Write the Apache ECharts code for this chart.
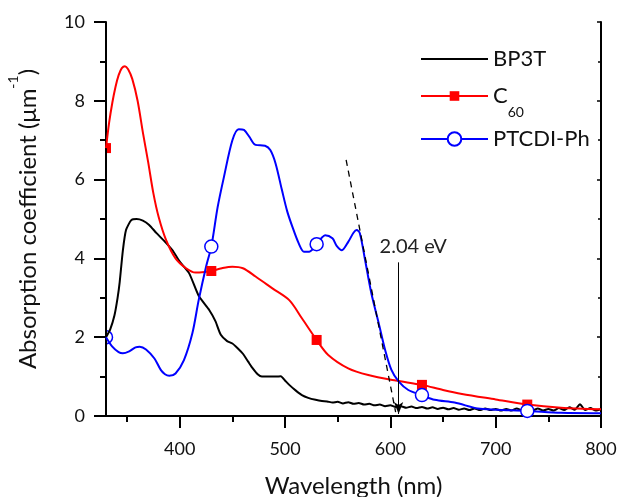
<!DOCTYPE html>
<html><head><meta charset="utf-8">
<script src="https://cdn.jsdelivr.net/npm/echarts@6/dist/echarts.min.js"></script>
<style>html,body{margin:0;padding:0;background:#fff}#c{width:619px;height:497px}</style>
</head><body><div id="c"></div>
<script>
// ---- data ----
const xMajorTicks = [400, 500, 600, 700, 800];
const xMinorTicks = [350, 450, 550, 650, 750];
const xTopTicks = [350, 400, 450, 500, 550, 600, 650, 700, 750, 800];
const seriesNames = ['BP3T', 'C60', 'PTCDI-Ph'];
const markerWl = [430, 530, 630, 730];
const edgeMarkerWl = [330];

const bp3t = [[330,2.0],[334,2.2],[338,2.55],[341,3.0],[343,3.4],[346,4.2],[349,4.72],[354,4.97],[359,5.0],[365,4.96],[371,4.85],[378,4.64],[385,4.45],[393,4.21],[400,3.92],[409,3.62],[418,3.05],[428,2.69],[434,2.4],[439,2.06],[445,1.9],[450,1.84],[455,1.72],[460,1.58],[465,1.38],[469,1.22],[474,1.06],[478,1.0],[485,1.0],[491,1.0],[496,1.01],[500,0.9],[504,0.79],[510,0.65],[516,0.53],[522,0.46],[529,0.41],[535,0.38],
[540,0.37],[545,0.34],[550,0.36],[555,0.32],[560,0.35],[565,0.31],[570,0.33],[575,0.29],[580,0.31],[585,0.27],[590,0.29],[595,0.25],[600,0.27],[605,0.23],[610,0.25],[615,0.21],[620,0.24],[625,0.2],[630,0.23],[635,0.19],[640,0.22],[645,0.18],[650,0.21],[655,0.17],[660,0.2],[665,0.16],[670,0.19],[675,0.15],[680,0.19],[685,0.15],[690,0.19],[695,0.15],[700,0.18],[705,0.14],[710,0.18],[715,0.14],[720,0.19],[725,0.14],[730,0.18],[735,0.14],[740,0.19],[745,0.14],[750,0.18],[755,0.14],[760,0.2],[765,0.15],[770,0.22],[775,0.16],[780,0.3],[785,0.15],[790,0.2],[795,0.14],[800,0.17]];

const c60 = [[330,6.8],[333,7.45],[336,7.95],[339,8.35],[342,8.65],[345,8.83],[348,8.88],[351,8.8],[355,8.55],[360,8.0],[365,7.2],[370,6.45],[375,5.65],[380,5.05],[387,4.47],[396,4.0],[406,3.75],[415,3.64],[425,3.66],[430,3.68],[440,3.75],[450,3.79],[460,3.75],[472,3.54],[488,3.24],[504,2.94],[516,2.48],[530,1.93],[541,1.55],[560,1.21],[579,1.04],[605,0.9],[630,0.79],[650,0.66],[668,0.56],[700,0.42],[730,0.29],[762,0.21],[800,0.17]];

const ptcdi = [[330,2.0],[336,1.76],[342,1.62],[346,1.59],[352,1.64],[358,1.74],[362,1.76],[368,1.69],[376,1.46],[382,1.17],[386,1.06],[390,1.02],[396,1.08],[404,1.42],[412,2.1],[418,2.94],[425,3.79],[430,4.3],[436,5.3],[442,6.07],[450,7.0],[456,7.28],[461,7.26],[466,7.09],[472,6.88],[481,6.86],[486,6.75],[491,6.41],[497,5.74],[502,5.2],[507,4.8],[513,4.38],[518,4.17],[523,4.17],[530,4.36],[535,4.53],[538,4.59],[545,4.51],[549,4.32],[554,4.21],[560,4.42],[565,4.65],[568,4.72],[571,4.64],[576,3.96],[582,3.11],[589,2.35],[595,1.68],[601,1.17],[608,0.87],[617,0.66],[630,0.53],[642,0.41],[661,0.34],[683,0.19],[700,0.16],[730,0.13],[762,0.08],[800,0.07]];

// annotations (data coordinates)
const tangentLine = [[558, 6.5], [605, 0.1]];
const gapArrow = [[607.8, 3.9], [607.8, 0.05]];
const gapLabel = {text: '2.04 eV', at: [621.7, 4.29]};

// ---- chart ----
const FONT = 'Lato';
const RED = '#ff0000', BLUE = '#0000ff';
function build(arr, markers) {
  return arr.map(p => markers.includes(p[0]) ? {value: p} : {value: p, symbol: 'none'});
}
function edge(arr) { return arr.filter(p => edgeMarkerWl.includes(p[0])); }
function gridClip(params) {
  const c = params.coordSys;
  return {type: 'rect', shape: {x: c.x + 1, y: c.y, width: c.width - 1, height: c.height}};
}
const chart = echarts.init(document.getElementById('c'), null, {renderer: 'canvas'});
const axisLine = {show: true, lineStyle: {color: '#000', width: 2}};
const baseLegend = {
  orient: 'vertical', left: 420, padding: 0, itemWidth: 67, itemGap: 0,
  textStyle: {fontFamily: FONT, fontSize: 22, color: '#111'}
};
chart.setOption({
  animation: false,
  backgroundColor: '#fff',
  grid: {left: 106, right: 18, top: 22, bottom: 81, containLabel: false, outerBoundsMode: 'none'},
  legend: [
    Object.assign({}, baseLegend, {data: [seriesNames[0]], top: 48, itemHeight: 14,
      itemStyle: {color: 'rgba(0,0,0,0)', borderColor: 'rgba(0,0,0,0)', borderWidth: 0}}),
    Object.assign({}, baseLegend, {data: [seriesNames[1]], top: 85, itemHeight: 12,
      formatter: () => '{c|C}{s|60}',
      textStyle: {fontFamily: FONT, fontSize: 22, color: '#111',
        rich: {c: {fontFamily: FONT, fontSize: 22, color: '#111', lineHeight: 46},
               s: {fontFamily: FONT, fontSize: 14, color: '#111', verticalAlign: 'bottom'}}}}),
    Object.assign({}, baseLegend, {data: [seriesNames[2]], top: 128, itemHeight: 17})
  ],
  xAxis: [
    {type: 'value', min: 330, max: 800, position: 'bottom',
     name: 'Wavelength (nm)', nameLocation: 'middle', nameGap: 58,
     nameTextStyle: {fontFamily: FONT, fontSize: 24, color: '#111'},
     axisLine: axisLine,
     axisTick: {show: true, inside: false, length: 12, customValues: xMajorTicks, lineStyle: {color: '#000', width: 2}},
     axisLabel: {show: true, customValues: xMajorTicks, margin: 24, fontFamily: FONT, fontSize: 18, color: '#111'},
     splitLine: {show: false}},
    {type: 'value', min: 330, max: 800, position: 'top',
     axisLine: axisLine,
     axisTick: {show: true, inside: true, length: 3, customValues: xTopTicks, lineStyle: {color: '#000', width: 1.5}},
     axisLabel: {show: false}, splitLine: {show: false}},
    {type: 'value', min: 330, max: 800, position: 'bottom',
     axisLine: {show: false},
     axisTick: {show: true, inside: false, length: 6, customValues: xMinorTicks, lineStyle: {color: '#000', width: 2}},
     axisLabel: {show: false}, splitLine: {show: false}}
  ],
  yAxis: [
    {type: 'value', min: 0, max: 10, interval: 2, position: 'left',
     name: '{t|Absorption coefficient (μm}{p|-1}{t|)}', nameLocation: 'middle', nameGap: 56,
     nameTextStyle: {fontFamily: FONT, fontSize: 24, color: '#111',
       rich: {t: {fontFamily: FONT, fontSize: 24, color: '#111', lineHeight: 44},
              p: {fontFamily: FONT, fontSize: 14, color: '#111', verticalAlign: 'top'}}},
     axisLine: axisLine,
     axisTick: {show: true, inside: false, length: 12, lineStyle: {color: '#000', width: 2}},
     minorTick: {show: true, splitNumber: 2, length: 6, lineStyle: {color: '#000', width: 2}},
     axisLabel: {margin: 21, fontFamily: FONT, fontSize: 18, color: '#111'},
     splitLine: {show: false}},
    {type: 'value', min: 0, max: 10, interval: 2, position: 'right',
     axisLine: axisLine,
     axisTick: {show: true, inside: true, length: 4, lineStyle: {color: '#000', width: 1.5}},
     minorTick: {show: true, splitNumber: 2, length: 3, lineStyle: {color: '#000', width: 1.5}},
     axisLabel: {show: false}, splitLine: {show: false}}
  ],
  series: [
    {name: seriesNames[0], type: 'line', xAxisIndex: 0, yAxisIndex: 0,
     data: bp3t, symbol: 'none', smooth: 0.2,
     itemStyle: {color: '#000'}, lineStyle: {color: '#000', width: 2},
     markLine: {silent: true, symbol: ['none', 'none'], label: {show: false},
       data: [
         [{coord: tangentLine[0], lineStyle: {type: [6, 5], color: '#000', width: 1.3}}, {coord: tangentLine[1]}],
         [{coord: gapArrow[0], symbol: 'none', lineStyle: {type: 'solid', color: '#000', width: 1}},
          {coord: gapArrow[1], symbol: 'arrow', symbolSize: [7, 12]}]
       ]}},
    {name: seriesNames[1], type: 'line', xAxisIndex: 0, yAxisIndex: 0,
     data: build(c60, markerWl), symbol: 'rect', symbolSize: 10,
     showSymbol: true, showAllSymbol: true, smooth: 0.3,
     itemStyle: {color: RED}, lineStyle: {color: RED, width: 2}},
    {name: seriesNames[2], type: 'line', xAxisIndex: 0, yAxisIndex: 0,
     data: build(ptcdi, markerWl), symbol: 'circle', symbolSize: 13,
     showSymbol: true, showAllSymbol: true, smooth: 0.3,
     itemStyle: {color: '#ffffff', borderColor: BLUE, borderWidth: 1.5},
     lineStyle: {color: BLUE, width: 2}},
    {type: 'custom', xAxisIndex: 0, yAxisIndex: 0, clip: true, z: 3, silent: true,
     data: edge(c60),
     renderItem: (params, api) => {
       const p = api.coord([api.value(0), api.value(1)]);
       return {type: 'group', clipPath: gridClip(params), children: [
         {type: 'rect', shape: {x: p[0] - 5, y: p[1] - 5, width: 10, height: 10}, style: {fill: RED}}]};
     }},
    {type: 'custom', xAxisIndex: 0, yAxisIndex: 0, clip: true, z: 3, silent: true,
     data: edge(ptcdi),
     renderItem: (params, api) => {
       const p = api.coord([api.value(0), api.value(1)]);
       return {type: 'group', clipPath: gridClip(params), children: [
         {type: 'circle', shape: {cx: p[0], cy: p[1], r: 6.5}, style: {fill: '#fff', stroke: BLUE, lineWidth: 1.5}}]};
     }}
  ]
});
const lp = chart.convertToPixel({xAxisIndex: 0, yAxisIndex: 0}, gapLabel.at);
chart.setOption({graphic: [{type: 'text', x: lp[0], y: lp[1], z: 100,
  style: {text: gapLabel.text, fontFamily: FONT, fontSize: 20, fill: '#222',
          align: 'center', verticalAlign: 'middle', textAlign: 'center', textVerticalAlign: 'middle'}}]});
</script>
</body></html>
